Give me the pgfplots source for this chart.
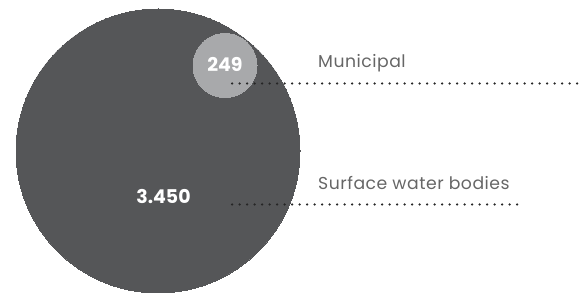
\documentclass[border=0pt]{standalone}
\usepackage{pgfplots}
\pgfplotsset{compat=1.18}
\usepackage{fontspec}
\setmainfont{Poppins}
\newfontfamily\lblfont[LetterSpace=3]{Poppins}
\definecolor{bigc}{HTML}{555658}
\definecolor{smallc}{HTML}{A8A9AB}
\definecolor{lbl}{HTML}{666666}
\definecolor{dots}{HTML}{262626}
\begin{document}
\begin{tikzpicture}
\begin{axis}[
  scale only axis, width=579bp, height=293bp,
  xmin=0, xmax=579, ymin=0, ymax=293, y dir=reverse,
  hide axis, clip=true, clip marker paths=true, set layers,
]
% Surface water bodies bubble (3.450)
\addplot[only marks, mark=*, mark size=142bp, mark options={fill=bigc, draw=bigc, line width=0pt}]
  coordinates {(158,151)};
% Municipal bubble (249)
\addplot[only marks, mark=*, mark size=32bp, mark options={fill=smallc, draw=smallc, line width=0pt}]
  coordinates {(225,65.5)};
\addplot[on layer=axis foreground, dots, line width=2.5bp, line cap=round, dash pattern=on 0bp off 7.5bp] coordinates {(232,83.5) (579,83.5)};
\addplot[on layer=axis foreground, dots, line width=2.5bp, line cap=round, dash pattern=on 0bp off 7.5bp] coordinates {(232,204.5) (518,204.5)};
\begin{pgfonlayer}{axis foreground}
\node[text=white, font=\fontsize{19}{22}\selectfont\bfseries] at (axis cs:225,64) {249};
\node[text=white, font=\fontsize{19}{22}\selectfont\bfseries] at (axis cs:163.5,197) {3.450};
\end{pgfonlayer}
\node[text=lbl, anchor=base west, inner sep=0pt, font=\fontsize{17.3}{20}\selectfont\lblfont] at (axis cs:318,67.5) {Municipal};
\node[text=lbl, anchor=base west, inner sep=0pt, font=\fontsize{17.3}{20}\selectfont\lblfont] at (axis cs:318,190) {Surface water bodies};
\end{axis}
\pgfresetboundingbox
\path[use as bounding box] (current axis.south west) rectangle (current axis.north east);
\end{tikzpicture}
\end{document}
